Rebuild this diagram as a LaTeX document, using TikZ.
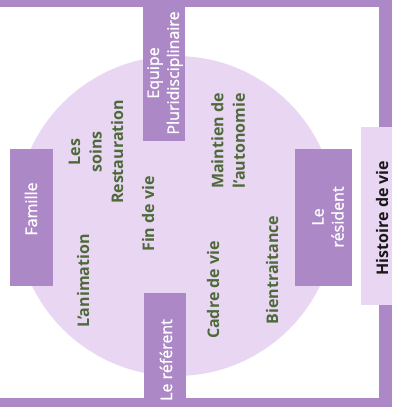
\documentclass[tikz,border=0pt]{standalone}
\usepackage{fontspec}
\setmainfont{Open Sans}
\newfontfamily\semib[FakeBold=1.2]{Open Sans}
\definecolor{pur}{HTML}{AD88C6}
\definecolor{lightpur}{HTML}{E9D6F3}
\definecolor{olive}{HTML}{4E6A3A}
\begin{document}
\begin{tikzpicture}[x=1pt,y=-1pt,
  purbox/.style={fill=pur,draw=none,inner sep=0pt,rotate=90},
  lbl/.style={text=olive,font=\bfseries\fontsize{16}{21.5}\selectfont,rotate=90,align=center,inner sep=0pt},
  wlbl/.style={text=white,font=\semib\fontsize{16}{20}\selectfont,rotate=90,align=center,inner sep=0pt}]
\useasboundingbox (0,0) rectangle (392,407);
% circle
\fill[lightpur] (176,216) circle (160pt);
% frame
\fill[pur] (0,0) rectangle (392,7);
\fill[pur] (379,0) rectangle (392,127);
\fill[pur] (379,305) rectangle (392,407);
\fill[pur] (0,398) rectangle (392,407);
% boxes
\node[purbox,minimum width=141pt,minimum height=42pt] (equipe) at (164,70.5) {};
\node[purbox,minimum width=137pt,minimum height=43pt] (famille) at (31.5,217.5) {};
\node[purbox,minimum width=108pt,minimum height=42pt] (referent) at (165,347) {};
\node[purbox,minimum width=137pt,minimum height=57pt] (resident) at (323.5,217.5) {};
\node[fill=lightpur,inner sep=0pt,rotate=90,minimum width=178pt,minimum height=31pt] (histoire) at (376.5,216) {};
% white labels
\node[wlbl] (tequipe) at (165,73) {Equipe\\Pluridisciplinaire};
\node[wlbl] (tfamille) at (31,209) {Famille};
\node[wlbl] (treferent) at (166,360) {Le référent};
\node[wlbl] (tresident) at (328,217) {Le\\résident};
% dark label
\node[text=black!90,font=\bfseries\fontsize{16}{20}\selectfont,rotate=90,inner sep=0pt] (thistoire) at (382,218) {Histoire de vie};
% olive labels
\node[lbl] (soins) at (96,152) {Les\\soins\\Restauration};
\node[lbl] (anim) at (83,281) {L'animation};
\node[lbl] (fin) at (148,214) {Fin de vie};
\node[lbl] (maint) at (228,141) {Maintien de\\l'autonomie};
\node[lbl] (cadre) at (213,290) {Cadre de vie};
\node[lbl] (bien) at (272,270) {Bientraitance};
\end{tikzpicture}
\end{document}
